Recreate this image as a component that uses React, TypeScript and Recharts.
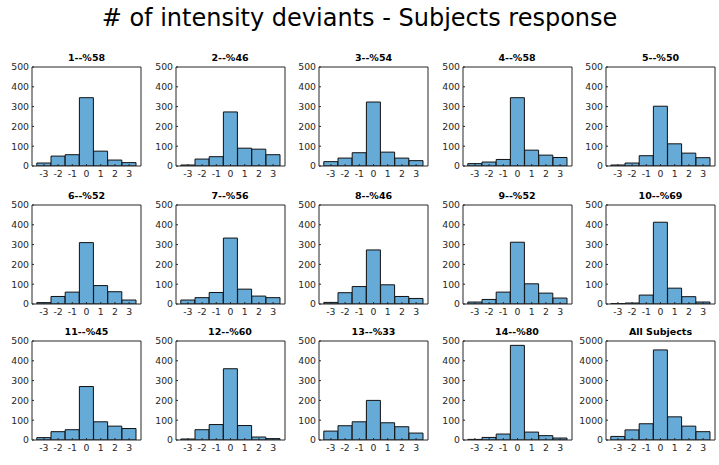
import { BarChart, Bar, XAxis, YAxis } from "recharts";

// histogram bins (deviation from the correct count)
const BINS = ["-3", "-2", "-1", "0", "1", "2", "3"];

const TITLES = [
  "1--%58", "2--%46", "3--%54", "4--%58", "5--%50",
  "6--%52", "7--%56", "8--%46", "9--%52", "10--%69",
  "11--%45", "12--%60", "13--%33", "14--%80", "All Subjects",
];

const S1 = [15, 50, 57, 345, 75, 30, 17];
const S2 = [5, 35, 47, 273, 90, 85, 57];
const S3 = [22, 40, 67, 323, 70, 40, 27];
const S4 = [12, 20, 33, 345, 80, 55, 43];
const S5 = [5, 15, 52, 302, 112, 65, 42];
const S6 = [7, 38, 60, 310, 93, 62, 20];
const S7 = [20, 32, 58, 333, 75, 40, 32];
const S8 = [8, 57, 88, 273, 97, 38, 28];
const S9 = [10, 23, 60, 312, 102, 55, 30];
const S10 = [2, 5, 45, 413, 80, 37, 10];
const S11 = [12, 42, 52, 270, 92, 70, 58];
const S12 = [5, 52, 78, 360, 73, 15, 7];
const S13 = [45, 72, 92, 200, 87, 67, 35];
const S14 = [3, 13, 30, 478, 40, 22, 10];
const ALL = [180, 510, 820, 4550, 1170, 700, 420];

const SERIES = [S1, S2, S3, S4, S5, S6, S7, S8, S9, S10, S11, S12, S13, S14, ALL];

const Y_TICKS = [0, 100, 200, 300, 400, 500];
const Y_TICKS_ALL = [0, 1000, 2000, 3000, 4000, 5000];

// subplot grid geometry
const COL_LEFT = [32, 175.5, 319, 462.5, 606];
const ROW_TOP = [66.5, 204.5, 341];
const PW = 109;
const PH = 99;
const YW = 32;
const XH = 18;
const TOPM = 10;
const RM = 6;

const FONT = "'DejaVu Sans', sans-serif";
const AX = "#262626";
const tickStyle = { fontSize: 9.3, fill: AX, fontFamily: FONT };

function Panel({ title, values, left, top, yTicks }: {
  title: string;
  values: number[];
  left: number;
  top: number;
  yTicks: number[];
}) {
  const data = BINS.map((b, i) => ({ bin: b, count: values[i] }));
  const yMax = yTicks[yTicks.length - 1];
  return (
    <>
      <div
        style={{
          position: "absolute",
          left,
          top: top - 15,
          width: PW,
          textAlign: "center",
          fontFamily: FONT,
          fontWeight: "bold",
          fontSize: 9.5,
          lineHeight: "12px",
          color: "#000",
          whiteSpace: "nowrap",
        }}
      >
        {title}
      </div>
      <div style={{ position: "absolute", left: left - YW, top: top - TOPM }}>
        <BarChart
          width={YW + PW + RM}
          height={TOPM + PH + XH}
          data={data}
          margin={{ top: TOPM - 1, right: RM - 1, left: 0, bottom: 0 }}
          barCategoryGap={0}
          barGap={0}
        >
          <XAxis
            dataKey="bin"
            type="category"
            height={XH}
            interval={0}
            padding={{ left: 4.8, right: 4.8 }}
            tick={tickStyle}
            tickSize={-2}
            tickMargin={6.5}
            axisLine={{ stroke: AX }}
            tickLine={{ stroke: AX }}
          />
          {/* top and right axes close the box, ticks only */}
          <XAxis
            xAxisId="top"
            dataKey="bin"
            type="category"
            orientation="top"
            height={1}
            interval={0}
            padding={{ left: 4.8, right: 4.8 }}
            tick={false}
            tickSize={-2}
            axisLine={{ stroke: AX }}
            tickLine={{ stroke: AX }}
          />
          <YAxis
            type="number"
            width={YW}
            domain={[0, yMax]}
            ticks={yTicks}
            interval={0}
            allowDataOverflow
            tick={tickStyle}
            tickSize={-2}
            tickMargin={5}
            axisLine={{ stroke: AX }}
            tickLine={{ stroke: AX }}
          />
          <YAxis
            yAxisId="right"
            type="number"
            orientation="right"
            width={1}
            domain={[0, yMax]}
            ticks={yTicks}
            interval={0}
            allowDataOverflow
            tick={false}
            tickSize={-2}
            axisLine={{ stroke: AX }}
            tickLine={{ stroke: AX }}
          />
          <Bar
            dataKey="count"
            fill="#66AAD7"
            stroke="#111"
            strokeWidth={1}
            isAnimationActive={false}
          />
        </BarChart>
      </div>
    </>
  );
}

export default function App() {
  return (
    <div
      style={{
        position: "absolute",
        left: 0,
        top: 0,
        width: 719,
        height: 465,
        background: "#fff",
        overflow: "hidden",
      }}
    >
      <div
        style={{
          position: "absolute",
          left: 0,
          top: 3,
          width: 719,
          textAlign: "center",
          fontFamily: FONT,
          fontSize: 24,
          lineHeight: "30px",
          color: "#000",
        }}
      >
        # of intensity deviants - Subjects response
      </div>
      {SERIES.map((values, i) => (
        <Panel
          key={TITLES[i]}
          title={TITLES[i]}
          values={values}
          left={COL_LEFT[i % 5]}
          top={ROW_TOP[Math.floor(i / 5)]}
          yTicks={i === 14 ? Y_TICKS_ALL : Y_TICKS}
        />
      ))}
    </div>
  );
}
